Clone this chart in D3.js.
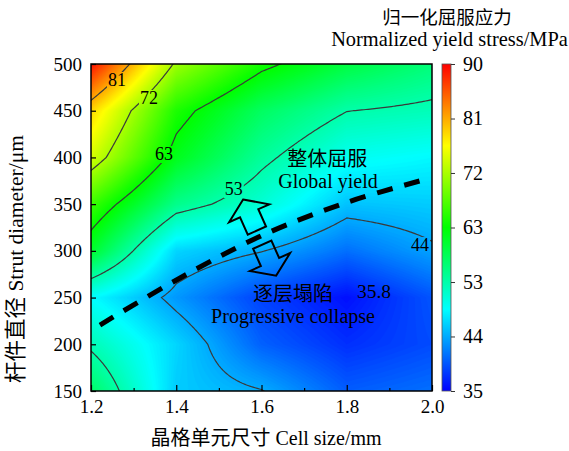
<!DOCTYPE html>
<html><head><meta charset="utf-8">
<script src="https://cdn.jsdelivr.net/npm/d3@7"></script>
<style>
body{margin:0;background:#fff;}
svg text{font-family:"Liberation Serif","Times New Roman","Noto Sans CJK SC",serif;fill:#000;}
</style></head><body>
<svg id="chart" width="569" height="451"></svg>
<script>
// ---------------- data ----------------
const cellSizes = [1.2, 1.4, 1.6, 1.8, 2.0];                 // mm
const strutDiameters = [150, 200, 250, 300, 350, 400, 450, 500]; // um
// normalized yield stress (MPa); rows = strut diameter, columns = cell size
const yieldStress = [
  [57.0, 46.0, 44.3, 40.0, 41.0],
  [52.7, 46.5, 40.2, 37.5, 39.0],
  [48.8, 43.2, 38.5, 35.8, 39.5],
  [60.0, 46.5, 44.3, 41.0, 43.7],
  [65.7, 55.0, 51.0, 45.5, 46.0],
  [74.0, 61.0, 54.2, 49.5, 48.5],
  [78.5, 64.0, 57.3, 53.4, 52.5],
  [89.0, 71.0, 63.5, 59.0, 56.0]
];
const xTicks = [1.2, 1.4, 1.6, 1.8, 2.0];
const xMinorTicks = [1.3, 1.5, 1.7, 1.9];
const yTicks = [150, 200, 250, 300, 350, 400, 450, 500];
const colorbarTicks = [35, 44.17, 53.33, 62.5, 71.67, 80.83, 90];
const colorbarLabels = ["35", "44", "53", "63", "72", "81", "90"];
const contourLevels = [44.17, 53.33, 62.5, 71.67, 80.83];
const contourLabelText = ["81", "72", "63", "53", "44"];
const contourLabelX = [1.261, 1.336, 1.371, 1.535, 1.972];
const contourLabelY = [476.4, 457.2, 397.2, 359.7, 299.8];
const minLabel = {text: "35.8", x: 1.864, y: 249.5};
const boundaryX = [1.221, 1.409, 1.604, 1.801, 1.989];
const boundaryY = [220.6, 271, 317, 352, 377];
const arrowX = [1.573, 1.618];
const arrowY = [338.3, 290];
const arrowDir = [1, -1];
const regionText = ["整体屈服", "Global yield", "逐层塌陷", "Progressive collapse"];
const regionX = [1.754, 1.756, 1.674, 1.674];
const regionY = [390.8, 367.2, 246.3, 222.7];

// ---------------- layout ----------------
const svg = d3.select("#chart");
const L = 91, R = 432, T = 64, B = 391;
const x = d3.scaleLinear([1.2, 2.0], [L, R]);
const y = d3.scaleLinear([150, 500], [B, T]);
const colorStops = [35, 48.75, 62.5, 76.25, 90];
const colorRange = ["#0000ff", "#00ffff", "#00ff00", "#ffff00", "#ff0000"];
const color = d3.scaleLinear(colorStops, colorRange).clamp(true);

// fine grid by bilinear interpolation of measured grid (for rendering)
const nx = 161, ny = 141;
const gx0 = 1.2, gx1 = 2.0, gy0 = 150, gy1 = 500;
const dxg = (gx1 - gx0) / (nx - 1), dyg = (gy1 - gy0) / (ny - 1);
function bilinear(xv, yv) {
  let i = d3.bisectRight(cellSizes, xv) - 1; i = Math.max(0, Math.min(cellSizes.length - 2, i));
  let j = d3.bisectRight(strutDiameters, yv) - 1; j = Math.max(0, Math.min(strutDiameters.length - 2, j));
  const tx = (xv - cellSizes[i]) / (cellSizes[i + 1] - cellSizes[i]);
  const ty = (yv - strutDiameters[j]) / (strutDiameters[j + 1] - strutDiameters[j]);
  const a = yieldStress[j][i], b = yieldStress[j][i + 1], c = yieldStress[j + 1][i], d = yieldStress[j + 1][i + 1];
  return a * (1 - tx) * (1 - ty) + b * tx * (1 - ty) + c * (1 - tx) * ty + d * tx * ty;
}
const values = new Array(nx * ny);
for (let r = 0; r < ny; r++) for (let c = 0; c < nx; c++)
  values[r * nx + c] = bilinear(gx0 + c * dxg, gy0 + r * dyg);

const proj = d3.geoTransform({point(px, py) {
  this.stream.point(x(gx0 + (px - 0.5) * dxg), y(gy0 + (py - 0.5) * dyg));
}});
const path = d3.geoPath(proj);

const defs = svg.append("defs");
defs.append("clipPath").attr("id", "plotClip")
  .append("rect").attr("x", L).attr("y", T).attr("width", R - L).attr("height", B - T);

// filled smooth contours
const step = 0.25;
const fillThresholds = d3.range(35, 90 + 1e-9, step);
const fills = d3.contours().size([nx, ny]).thresholds(fillThresholds)(values);
const gFill = svg.append("g").attr("clip-path", "url(#plotClip)");
gFill.append("rect").attr("x", L).attr("y", T).attr("width", R - L).attr("height", B - T)
  .attr("fill", color(35));
gFill.selectAll("path").data(fills).join("path")
  .attr("d", path)
  .attr("fill", d => color(d.value + step / 2))
  .attr("stroke", d => color(d.value + step / 2))
  .attr("stroke-width", 0.3);

// contour labels (text first to measure for line gaps)
const gLines = svg.append("g").attr("clip-path", "url(#plotClip)");
const gLabels = svg.append("g");
const labelNodes = gLabels.selectAll("text.cl").data(contourLabelText).join("text")
  .attr("class", "cl")
  .attr("x", (d, i) => x(contourLabelX[i]))
  .attr("y", (d, i) => y(contourLabelY[i]))
  .attr("text-anchor", "middle")
  .attr("font-size", 18)
  .text(d => d);

const mask = defs.append("mask").attr("id", "labelMask").attr("maskUnits", "userSpaceOnUse")
  .attr("x", 0).attr("y", 0).attr("width", 569).attr("height", 451);
mask.append("rect").attr("x", 0).attr("y", 0).attr("width", 569).attr("height", 451).attr("fill", "#fff");
labelNodes.each(function () {
  const b = this.getBBox();
  mask.append("rect").attr("x", b.x - 1).attr("y", b.y + 2).attr("width", b.width + 2).attr("height", b.height - 3).attr("fill", "#000");
});

const lines = d3.contours().size([nx, ny]).thresholds(contourLevels)(values);
gLines.append("g").attr("mask", "url(#labelMask)")
  .selectAll("path").data(lines).join("path")
  .attr("d", path)
  .attr("fill", "none")
  .attr("stroke", "#3a3a3a")
  .attr("stroke-width", 1.2);

// min label
gLabels.append("text")
  .attr("x", x(minLabel.x)).attr("y", y(minLabel.y))
  .attr("text-anchor", "middle").attr("font-size", 19.5).text(minLabel.text);

// boundary dashed curve
const boundary = boundaryX.map((v, i) => [x(v), y(boundaryY[i])]);
svg.append("path")
  .attr("d", d3.line().curve(d3.curveCatmullRom)(boundary))
  .attr("fill", "none").attr("stroke", "#000").attr("stroke-width", 5)
  .attr("stroke-dasharray", "16,12");

// arrows (outline, perpendicular to the boundary)
const arrowShape = [[0, -17], [22, -2], [10, -2], [10, 17], [-10, 17], [-10, -2], [-22, -2]];
svg.selectAll("path.arrow").data(arrowX).join("path")
  .attr("class", "arrow")
  .attr("d", "M" + arrowShape.map(p => p.join(",")).join("L") + "Z")
  .attr("transform", (d, i) => `translate(${x(d)},${y(arrowY[i])}) rotate(-24) scale(1,${arrowDir[i]})`)
  .attr("fill", "none").attr("stroke", "#000").attr("stroke-width", 2).attr("stroke-linejoin", "miter");

// region texts
svg.selectAll("text.region").data(regionText).join("text")
  .attr("class", "region")
  .attr("x", (d, i) => x(regionX[i])).attr("y", (d, i) => y(regionY[i]))
  .attr("text-anchor", "middle").attr("font-size", 20).text(d => d);

// axes
const gx = svg.append("g").attr("transform", `translate(0,${B})`)
  .call(d3.axisBottom(x).tickValues(xTicks).tickFormat(d3.format(".1f")).tickSize(-6).tickPadding(8.5));
const gxm = svg.append("g").attr("transform", `translate(0,${B})`)
  .call(d3.axisBottom(x).tickValues(xMinorTicks).tickFormat("").tickSize(-3));
const gy = svg.append("g").attr("transform", `translate(${L},0)`)
  .call(d3.axisLeft(y).tickValues(yTicks).tickSize(-5).tickPadding(9));
[gx, gxm, gy].forEach(g => {
  g.select(".domain").remove();
  g.selectAll("line").attr("stroke", "#000").attr("stroke-width", 1.2);
  g.selectAll("text").attr("font-size", 19).attr("font-family", null);
});
svg.append("rect").attr("x", L).attr("y", T).attr("width", R - L).attr("height", B - T)
  .attr("fill", "none").attr("stroke", "#000").attr("stroke-width", 1.5);

// axis titles
svg.append("text").attr("x", 266).attr("y", 445).attr("text-anchor", "middle")
  .attr("font-size", 20).text("晶格单元尺寸 Cell size/mm");
svg.append("text").attr("transform", "translate(23,259) rotate(-90)").attr("text-anchor", "middle")
  .attr("font-size", 21.5).text("杆件直径 Strut diameter/μm");

// colorbar
const cbX = 442, cbW = 9;
const cbY = d3.scaleLinear([35, 90], [B, T]);
const grad = defs.append("linearGradient").attr("id", "cbGrad")
  .attr("x1", 0).attr("y1", 1).attr("x2", 0).attr("y2", 0);
grad.selectAll("stop").data(colorStops).join("stop")
  .attr("offset", d => (d - 35) / 55).attr("stop-color", d => color(d));
svg.append("rect").attr("x", cbX).attr("y", T).attr("width", cbW).attr("height", B - T)
  .attr("fill", "url(#cbGrad)").attr("stroke", "#555").attr("stroke-width", 0.8);
const gcb = svg.append("g").attr("transform", `translate(${cbX + cbW},0)`)
  .call(d3.axisRight(cbY).tickValues(colorbarTicks).tickFormat((d, i) => colorbarLabels[i]).tickSize(4).tickPadding(8));
gcb.select(".domain").remove();
gcb.selectAll("line").attr("stroke", "#333").attr("stroke-width", 1);
gcb.selectAll("text").attr("font-size", 20).attr("font-family", null);

svg.append("text").attr("x", 447).attr("y", 24).attr("text-anchor", "middle")
  .attr("font-size", 18.5).text("归一化屈服应力");
svg.append("text").attr("x", 449.5).attr("y", 46).attr("text-anchor", "middle")
  .attr("font-size", 20.4).text("Normalized yield stress/MPa");
</script>
</body></html>
